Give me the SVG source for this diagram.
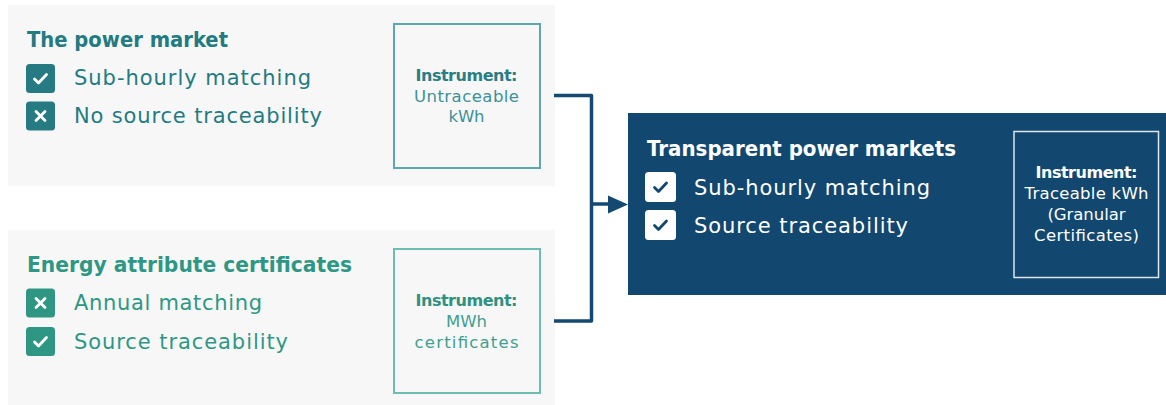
<svg xmlns="http://www.w3.org/2000/svg" xmlns:xlink="http://www.w3.org/1999/xlink" width="1166" height="405" viewBox="0 0 1166 405">
  <style>
    text { font-family: "DejaVu Sans", "Liberation Sans", sans-serif; }
    .panel { fill: #f7f7f7; }
    .title { font-size: 20.5px; font-weight: bold; }
    .item { font-size: 21px; }
    .inst-b { font-size: 16px; font-weight: bold; text-anchor: middle; }
    .inst { font-size: 16.5px; text-anchor: middle; }
    .teal { fill: #227b81; }
    .green { fill: #2e9784; }
    .box-teal { fill: none; stroke: #5ea7ae; stroke-width: 2; }
    .box-green { fill: none; stroke: #6dbdb1; stroke-width: 2; }
    .mark-w { fill: none; stroke: #ffffff; stroke-width: 2.8; stroke-linecap: round; stroke-linejoin: round; }
    .mark-n { fill: none; stroke: #12476f; stroke-width: 2.8; stroke-linecap: round; stroke-linejoin: round; }
    .white { fill: #ffffff; }
    .connector { fill: none; stroke: #144a72; stroke-width: 3.5; stroke-linejoin: round; }
  </style>
  <defs>
    <path id="tick" d="M-6,0.5 L-2,4.5 L6,-4"/>
    <path id="cross" d="M-4.5,-4.5 L4.5,4.5 M4.5,-4.5 L-4.5,4.5"/>
  </defs>

  <!-- Power market panel -->
  <g id="power-market">
    <rect class="panel" x="8" y="5" width="547" height="181"/>
    <text class="title teal" x="27" y="47" textLength="201" lengthAdjust="spacingAndGlyphs">The power market</text>
    <rect x="26" y="64" width="29" height="29" rx="3.5" fill="#267b82"/>
    <use href="#tick" x="40.5" y="78.5" class="mark-w"/>
    <text class="item teal" x="74" y="85" textLength="237">Sub-hourly matching</text>
    <rect x="26" y="101.5" width="29" height="29" rx="3.5" fill="#267b82"/>
    <use href="#cross" x="40.5" y="116" class="mark-w"/>
    <text class="item teal" x="74" y="123" textLength="248">No source traceability</text>
  </g>
  <g id="power-market-instrument">
    <rect class="box-teal" x="394" y="24" width="146" height="144"/>
    <text class="inst-b" x="466.5" y="81" fill="#2a7d83" textLength="102">Instrument:</text>
    <text class="inst" x="466.5" y="101.5" fill="#3d9199" textLength="105">Untraceable</text>
    <text class="inst" x="466.5" y="122" fill="#3d9199" textLength="36">kWh</text>
  </g>

  <!-- Energy attribute certificates panel -->
  <g id="eac">
    <rect class="panel" x="8" y="230" width="547" height="175"/>
    <text class="title green" x="27" y="272" textLength="325" lengthAdjust="spacingAndGlyphs">Energy attribute certificates</text>
    <rect x="26" y="288.5" width="29" height="29" rx="3.5" fill="#2f9684"/>
    <use href="#cross" x="40.5" y="303" class="mark-w"/>
    <text class="item green" x="74" y="310" textLength="188">Annual matching</text>
    <rect x="26" y="327" width="29" height="29" rx="3.5" fill="#2f9684"/>
    <use href="#tick" x="40.5" y="341.5" class="mark-w"/>
    <text class="item green" x="74" y="349" textLength="214">Source traceability</text>
  </g>
  <g id="eac-instrument">
    <rect class="box-green" x="394" y="249" width="146" height="144"/>
    <text class="inst-b" x="466.5" y="305.5" fill="#2f9180" textLength="102">Instrument:</text>
    <text class="inst" x="466.5" y="326.5" fill="#3fa08f">MWh</text>
    <text class="inst" x="466.5" y="347.5" fill="#3fa08f" textLength="104">certificates</text>
  </g>

  <!-- Connectors -->
  <g id="connectors">
    <path class="connector" d="M554,95.5 H591.5 V321 H554"/>
    <path class="connector" d="M591.5,204 H610"/>
    <polygon points="608,195.5 628,204.5 608,213.5" fill="#144a72"/>
  </g>

  <!-- Transparent power markets panel -->
  <g id="transparent-markets">
    <rect x="628" y="113" width="538" height="182" fill="#12476f"/>
    <text class="title white" x="647" y="156" textLength="309" lengthAdjust="spacingAndGlyphs">Transparent power markets</text>
    <rect x="645" y="172" width="31" height="30" rx="3.5" fill="#ffffff"/>
    <use href="#tick" x="660.5" y="187" class="mark-n"/>
    <text class="item white" x="694" y="194.5" textLength="236">Sub-hourly matching</text>
    <rect x="645" y="210" width="31" height="30" rx="3.5" fill="#ffffff"/>
    <use href="#tick" x="660.5" y="225" class="mark-n"/>
    <text class="item white" x="694" y="232.5" textLength="214">Source traceability</text>
  </g>
  <g id="transparent-instrument">
    <rect x="1014" y="131.5" width="144.5" height="146" fill="none" stroke="#dde5ee" stroke-width="1.5"/>
    <text class="inst-b white" x="1086.5" y="178" textLength="102">Instrument:</text>
    <text class="inst white" x="1086.5" y="198.5" textLength="124">Traceable kWh</text>
    <text class="inst white" x="1086.5" y="219.5" textLength="78">(Granular</text>
    <text class="inst white" x="1086.5" y="240.5" textLength="105">Certificates)</text>
  </g>
</svg>
